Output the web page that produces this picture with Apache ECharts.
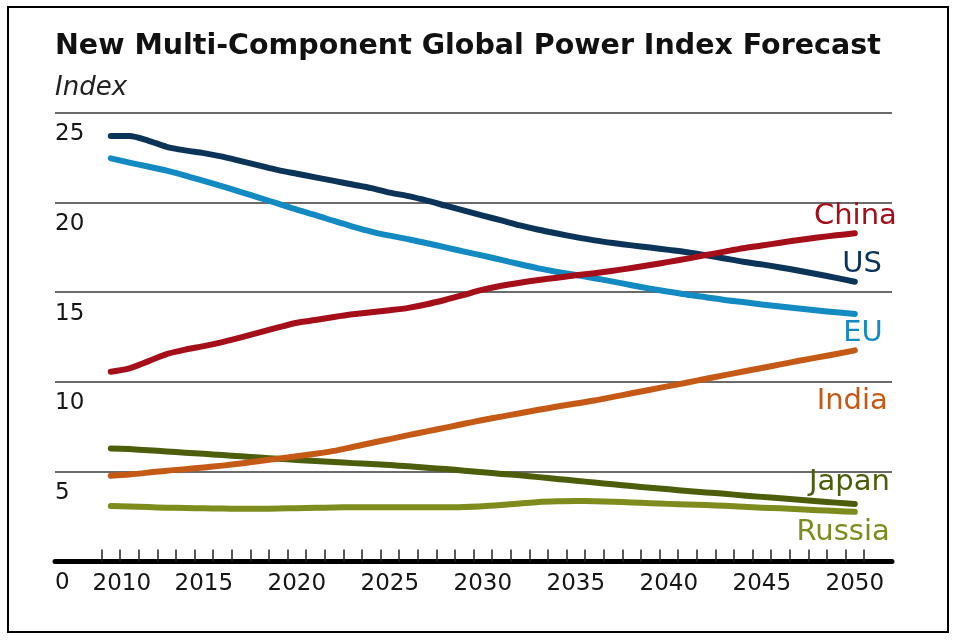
<!DOCTYPE html>
<html><head><meta charset="utf-8">
<script src="https://cdn.jsdelivr.net/npm/echarts@6/dist/echarts.min.js"></script>
<style>html,body{margin:0;padding:0;background:#fff}#c{width:960px;height:640px}</style>
</head><body><div id="c"></div>
<script>
const titleText = 'New Multi-Component Global Power Index Forecast';
const yAxisName = 'Index';
const years = [2010,2011,2012,2013,2014,2015,2016,2017,2018,2019,2020,2021,2022,2023,2024,2025,2026,2027,2028,2029,2030,2031,2032,2033,2034,2035,2036,2037,2038,2039,2040,2041,2042,2043,2044,2045,2046,2047,2048,2049,2050];
const us = [23.7,23.7,23.45,23.1,22.9,22.75,22.55,22.3,22.05,21.8,21.6,21.4,21.2,21.0,20.8,20.55,20.35,20.1,19.82,19.54,19.27,19.0,18.72,18.48,18.27,18.07,17.89,17.74,17.61,17.49,17.36,17.23,17.06,16.88,16.7,16.55,16.38,16.2,16.0,15.8,15.58];
const eu = [22.46,22.22,22.0,21.77,21.5,21.2,20.9,20.58,20.26,19.93,19.6,19.3,18.97,18.66,18.38,18.15,17.95,17.73,17.5,17.26,17.04,16.8,16.56,16.33,16.13,15.96,15.78,15.59,15.39,15.2,15.03,14.86,14.72,14.57,14.45,14.32,14.2,14.09,13.98,13.88,13.79];
const china = [10.57,10.76,11.15,11.55,11.8,12.0,12.22,12.48,12.76,13.04,13.3,13.45,13.62,13.77,13.89,14.0,14.13,14.33,14.58,14.86,15.14,15.36,15.53,15.68,15.81,15.94,16.06,16.2,16.35,16.52,16.69,16.87,17.07,17.26,17.45,17.6,17.76,17.91,18.05,18.17,18.28];
const india = [4.78,4.85,4.95,5.06,5.14,5.24,5.34,5.46,5.6,5.73,5.86,6.0,6.16,6.38,6.6,6.82,7.04,7.25,7.46,7.67,7.88,8.07,8.26,8.45,8.63,8.8,8.97,9.17,9.37,9.57,9.77,9.97,10.18,10.38,10.58,10.78,10.98,11.18,11.37,11.56,11.76];
const japan = [6.3,6.26,6.2,6.13,6.06,6.0,5.93,5.86,5.79,5.72,5.66,5.6,5.54,5.48,5.43,5.37,5.3,5.22,5.15,5.06,4.97,4.88,4.8,4.7,4.6,4.5,4.4,4.3,4.2,4.11,4.02,3.93,3.85,3.77,3.68,3.6,3.52,3.44,3.36,3.28,3.2];
const russia = [3.09,3.06,3.03,3.0,2.98,2.96,2.95,2.94,2.94,2.95,2.97,2.99,3.01,3.02,3.02,3.02,3.02,3.02,3.02,3.04,3.08,3.15,3.23,3.31,3.35,3.37,3.36,3.33,3.29,3.25,3.21,3.18,3.15,3.1,3.05,3.0,2.96,2.91,2.86,2.81,2.77];
const xLabelYears = [2010,2015,2020,2025,2030,2035,2040,2045,2050];
const yTickValues = [0,5,10,15,20,25];

const tickYears = [];
for (let y = 2009.5; y <= 2050.5; y += 1) tickYears.push(y);

const FONT = 'DejaVu Sans';
const TXT = '#161616';

function mk(name, vals, color, off, z) {
  return {
    type: 'line', name: name,
    data: years.map((y, i) => [y, vals[i]]),
    showSymbol: false, symbol: 'none', smooth: 0.25, z: z,
    lineStyle: { color: color, width: 6, cap: 'round', join: 'round' },
    itemStyle: { color: color },
    emphasis: { disabled: true },
    endLabel: { show: true, formatter: name, distance: 0, align: 'right', verticalAlign: 'middle',
      offset: off, fontFamily: FONT, fontSize: 29, color: color }
  };
}

const chart = echarts.init(document.getElementById('c'), null, { renderer: 'canvas' });
chart.setOption({
  animation: false,
  backgroundColor: '#fff',
  title: [
    { text: titleText, left: 55, top: 32, padding: 0, textStyle: { fontFamily: FONT, fontWeight: 'bold', fontSize: 28.5, color: '#111' } },
    { text: yAxisName, left: 55, top: 75, padding: 0, textStyle: { fontFamily: FONT, fontStyle: 'italic', fontWeight: 'normal', fontSize: 26, color: '#222' } }
  ],
  grid: { left: 55, right: 68, top: 112.7, bottom: 78.5, containLabel: false, outerBoundsMode: 'none' },
  xAxis: {
    type: 'value', min: 2007, max: 2052,
    axisLine: { show: true, onZero: false, lineStyle: { color: '#000', width: 5 } },
    axisTick: { show: true, inside: true, length: 12, customValues: tickYears, lineStyle: { color: '#222', width: 1.5 } },
    axisLabel: {
      customValues: xLabelYears, margin: 11, fontFamily: FONT, fontSize: 23, color: TXT,
      formatter: v => (v === 2010 ? '{s|2010}' : String(v)),
      rich: { s: { padding: [0, 0, 0, 22], fontFamily: FONT, fontSize: 23, color: TXT } }
    },
    splitLine: { show: false }
  },
  yAxis: {
    type: 'value', min: 0, max: 25, interval: 5,
    axisLine: { show: false }, axisTick: { show: false },
    axisLabel: { inside: true, margin: 0, align: 'left', verticalAlign: 'middle',
      customValues: yTickValues,
      formatter: v => '{d|' + v + '}',
      rich: { d: { padding: [43, 0, 0, 0], fontFamily: FONT, fontSize: 23, color: TXT } } },
    splitLine: { show: true, lineStyle: { color: '#3a3a3a', width: 1.5 } }
  },
  graphic: [{ type: 'rect', silent: true, z: 100,
    shape: { x: 8, y: 7, width: 940, height: 625 },
    style: { fill: 'none', stroke: '#000', lineWidth: 2 } }],
  series: [
    mk('US', us, '#0c3459', [27, -17], 3),
    mk('EU', eu, '#138bc2', [28, 20], 3),
    mk('Japan', japan, '#4c5e0c', [35, -22], 3),
    mk('Russia', russia, '#7d8c1c', [35, 21], 3),
    mk('India', india, '#c55a17', [33, 51], 4),
    mk('China', china, '#a50f1a', [42, -17], 5)
  ]
});
</script>
</body></html>
